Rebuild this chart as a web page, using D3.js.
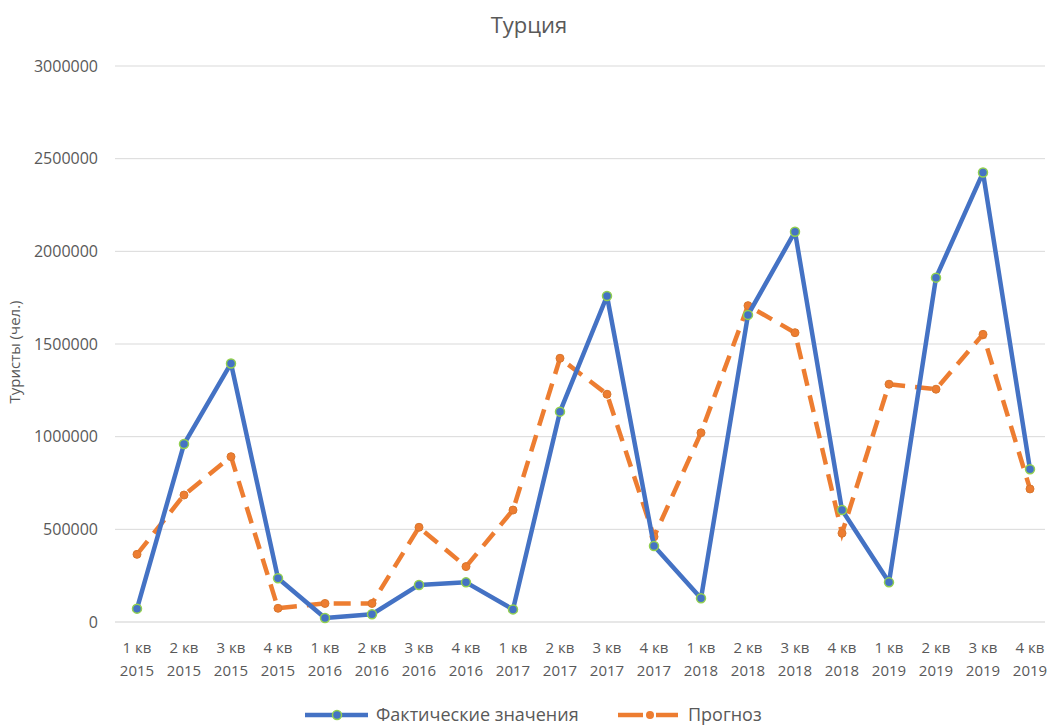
<!DOCTYPE html>
<html><head><meta charset="utf-8">
<script src="https://cdn.jsdelivr.net/npm/d3@7"></script>
<style>
body{margin:0;background:#fff;}
svg{display:block;}
text{font-family:"Open Sans","Noto Sans",sans-serif;fill:#595959;}
</style></head>
<body><svg id="c" width="1051" height="727"></svg>
<script>
const quarters = ["1 кв","2 кв","3 кв","4 кв","1 кв","2 кв","3 кв","4 кв","1 кв","2 кв","3 кв","4 кв","1 кв","2 кв","3 кв","4 кв","1 кв","2 кв","3 кв","4 кв"];
const years = ["2015","2015","2015","2015","2016","2016","2016","2016","2017","2017","2017","2017","2018","2018","2018","2018","2019","2019","2019","2019"];
const actual = [72000,960000,1395000,236000,22000,42000,200000,214000,68000,1135000,1759000,410000,128000,1657000,2106000,604000,214000,1858000,2425000,824000];
const forecast = [365000,685000,892000,74000,100000,100000,511000,299000,604000,1423000,1229000,460000,1021000,1707000,1561000,479000,1283000,1256000,1552000,718000];
const yTicks = [0,500000,1000000,1500000,2000000,2500000,3000000];
const title = "Турция";
const yTitle = "Туристы (чел.)";
const seriesNames = ["Фактические значения","Прогноз"];

const svg = d3.select("#c");
const cats = quarters.map((q,i)=>i);
const x = d3.scaleBand().domain(cats).range([113.5,1053.5]);
const cx = i => x(i) + x.bandwidth()/2;
const y = d3.scaleLinear().domain([0,3000000]).range([622,66]);
const gridL = 115, gridR = 1045;

// gridlines
svg.append("g").selectAll("line").data(yTicks.filter(d=>d>0)).join("line")
  .attr("x1",gridL).attr("x2",gridR).attr("y1",d=>y(d)).attr("y2",d=>y(d))
  .attr("stroke","#d9d9d9").attr("stroke-width",1);
// x axis baseline
svg.append("line").attr("x1",gridL).attr("x2",gridR).attr("y1",y(0)).attr("y2",y(0))
  .attr("stroke","#d0d0d0").attr("stroke-width",1.2);

// y axis labels
const yAxis = d3.axisLeft(y).tickValues(yTicks).tickFormat(d3.format("d")).tickSize(0).tickPadding(0);
const yg = svg.append("g").attr("transform","translate(98,0)").call(yAxis);
yg.select(".domain").remove();
yg.selectAll("text").attr("font-size",16).attr("fill","#595959").attr("font-family","Open Sans");

// x labels
const xl = svg.append("g").selectAll("text").data(cats).join("text")
  .attr("x",d=>cx(d)).attr("text-anchor","middle").attr("font-size",15);
xl.append("tspan").attr("x",d=>cx(d)).attr("y",653).text(d=>quarters[d]);
xl.append("tspan").attr("x",d=>cx(d)).attr("y",676).text(d=>years[d]);

// title
svg.append("text").attr("x",529).attr("y",33).attr("text-anchor","middle")
  .attr("font-size",22).text(title);
// y title
svg.append("text").attr("transform","translate(20,352) rotate(-90)").attr("text-anchor","middle")
  .attr("font-size",15).text(yTitle);

const line = d3.line().x((d,i)=>cx(i)).y(d=>y(d));
// forecast
svg.append("path").datum(forecast).attr("d",line).attr("fill","none")
  .attr("stroke","#ED7D31").attr("stroke-width",4.5).attr("stroke-dasharray","17,10");
svg.append("g").selectAll("circle").data(forecast).join("circle")
  .attr("cx",(d,i)=>cx(i)).attr("cy",d=>y(d)).attr("r",4)
  .attr("fill","#ED7D31").attr("stroke","#d9772e").attr("stroke-width",1);
// actual
svg.append("path").datum(actual).attr("d",line).attr("fill","none")
  .attr("stroke","#4472C4").attr("stroke-width",4.5).attr("stroke-linejoin","round");
svg.append("g").selectAll("circle").data(actual).join("circle")
  .attr("cx",(d,i)=>cx(i)).attr("cy",d=>y(d)).attr("r",4.5)
  .attr("fill","#4472C4").attr("stroke","#92D050").attr("stroke-width",1.5);

// legend
const lg = svg.append("g");
const ly = 715;
lg.append("line").attr("x1",305).attr("x2",368).attr("y1",ly).attr("y2",ly)
  .attr("stroke","#4472C4").attr("stroke-width",4.5);
lg.append("circle").attr("cx",337).attr("cy",ly).attr("r",4.5)
  .attr("fill","#4472C4").attr("stroke","#92D050").attr("stroke-width",1.5);
lg.append("text").attr("x",376).attr("y",ly+6).attr("font-size",18).text(seriesNames[0]);
lg.append("line").attr("x1",618).attr("x2",643).attr("y1",ly).attr("y2",ly)
  .attr("stroke","#ED7D31").attr("stroke-width",4.5);
lg.append("line").attr("x1",656).attr("x2",678).attr("y1",ly).attr("y2",ly)
  .attr("stroke","#ED7D31").attr("stroke-width",4.5);
lg.append("circle").attr("cx",650).attr("cy",ly).attr("r",4)
  .attr("fill","#ED7D31");
lg.append("text").attr("x",688).attr("y",ly+6).attr("font-size",18).text(seriesNames[1]);
</script></body></html>
